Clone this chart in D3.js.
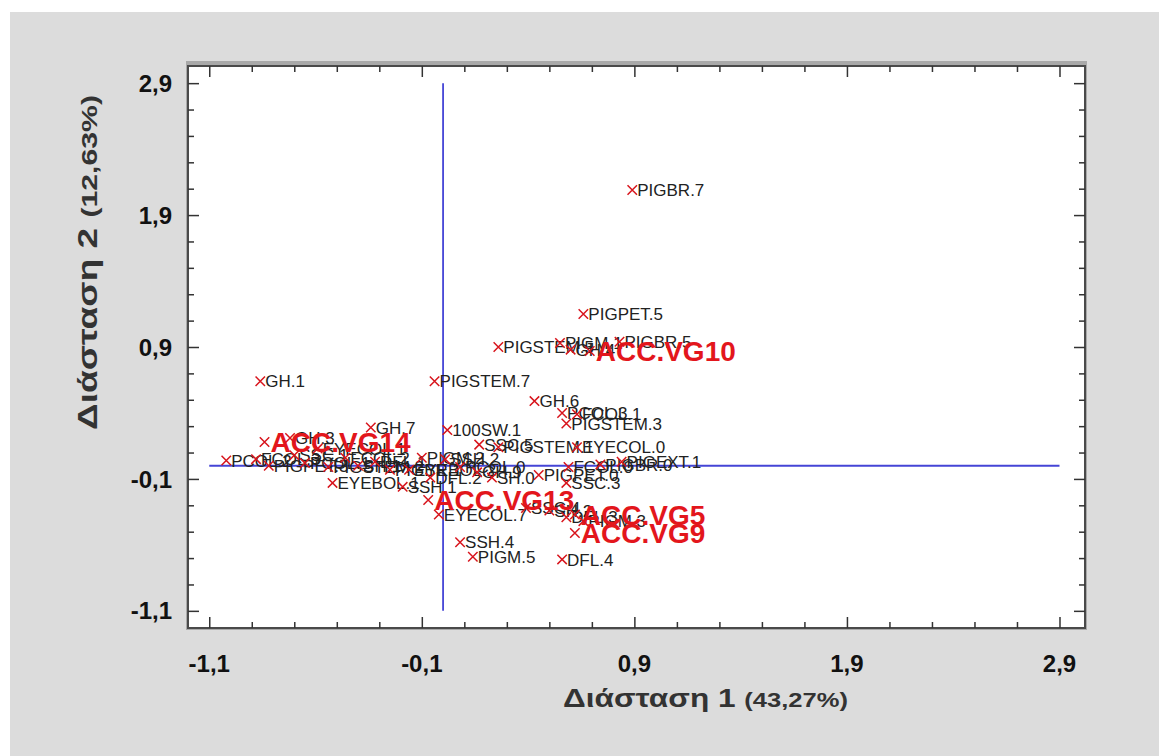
<!DOCTYPE html>
<html>
<head>
<meta charset="utf-8">
<script src="https://cdn.jsdelivr.net/npm/d3@7"></script>
<style>
  html, body { margin: 0; padding: 0; background: #fff; }
  svg { display: block; font-family: Arial, "Liberation Sans", sans-serif; }
</style>
</head>
<body>
<svg id="chart" width="1159" height="756"></svg>
<script>
// tick values (labels use comma decimals)
const xTicks = [-1.1, -0.1, 0.9, 1.9, 2.9];
const yTicks = [-1.1, -0.1, 0.9, 1.9, 2.9];

// trait categories (black labels)
const traitLabels = [
  "PIGBR.7", "PIGPET.5", "PIGSTEM.5", "PIGM.1", "PIGBR.5", "GH.4", "GH.1", "PIGSTEM.7",
  "GH.6", "PCOL.3", "FCOL.1", "PIGSTEM.3", "GH.7", "100SW.1", "SSC.5", "PIGSTEM.1",
  "EYECOL.0", "PIGEXT.1", "FCOL.0", "PIGBR.0", "PIGPET.0", "SSC.3", "EYEBOL.1", "EYECOL.7",
  "SSH.4", "PIGM.5", "DFL.4", "SSC.4", "SH.2", "DFL.3", "PIGM.3",
  "PCOL.2", "FCOL.3", "PIGPET.3", "GH.3", "SSC.1", "PCOL.1", "EYECOL.1", "PIGSTEM.2",
  "FCOL.2", "SH.1", "DFL.1", "PIGBR.1", "SSH.1", "EYEBOL.2", "PIGM.2", "DFL.2",
  "SSH.2", "PCOL.0", "GH.9", "SH.0"
];
const traitX = [
  0.89, 0.66, 0.26, 0.55, 0.83, 0.60, -0.86, -0.04,
  0.43, 0.56, 0.63, 0.58, -0.34, 0.02, 0.17, 0.26,
  0.63, 0.84, 0.59, 0.74, 0.45, 0.58, -0.52, -0.02,
  0.08, 0.14, 0.56, 0.39, 0.50, 0.58, 0.66,
  -1.02, -0.88, -0.82, -0.72, -0.70, -0.65, -0.59, -0.54,
  -0.46, -0.40, -0.32, -0.25, -0.19, -0.16, -0.10, -0.06,
  0.01, 0.08, 0.16, 0.23
];
const traitY = [
  2.09, 1.15, 0.90, 0.93, 0.94, 0.88, 0.64, 0.64,
  0.49, 0.40, 0.39, 0.32, 0.29, 0.27, 0.16, 0.14,
  0.14, 0.03, -0.01, 0.01, -0.07, -0.13, -0.13, -0.37,
  -0.58, -0.69, -0.71, -0.32, -0.34, -0.39, -0.42,
  0.04, 0.05, 0.00, 0.21, 0.08, 0.02, 0.13, -0.01,
  0.06, 0.00, 0.03, -0.03, -0.16, -0.03, 0.06, -0.09,
  0.05, -0.01, -0.05, -0.09
];

// accessions (large red labels)
const accLabels = ["ACC.VG10", "ACC.VG14", "ACC.VG13", "ACC.VG5", "ACC.VG9"];
const accX = [0.69, -0.84, -0.07, 0.62, 0.62];
const accY = [0.87, 0.18, -0.26, -0.37, -0.51];

const svg = d3.select("#chart");
const plot = { left: 188, right: 1085, top: 66, bottom: 628 };

const locale = d3.formatLocale({ decimal: ",", thousands: ".", grouping: [3], currency: ["", ""], minus: "-" });
const fmt = locale.format(".1f");

const x = d3.scaleLinear().domain([-1.2, 3.02]).range([plot.left, plot.right]);
const y = d3.scaleLinear().domain([-1.23, 3.03]).range([plot.bottom, plot.top]);

// grey panel
svg.append("rect")
  .attr("x", 10).attr("y", 12).attr("width", 1149).attr("height", 744)
  .attr("fill", "#dcdcdc");

// frame shadow + plot area
svg.append("rect")
  .attr("x", plot.left - 2).attr("y", plot.top - 5)
  .attr("width", plot.right - plot.left + 4).attr("height", plot.bottom - plot.top + 7)
  .attr("fill", "#a9a9a9");
svg.append("rect")
  .attr("x", plot.left).attr("y", plot.top)
  .attr("width", plot.right - plot.left).attr("height", plot.bottom - plot.top)
  .attr("fill", "#fff").attr("stroke", "#4a4a4a").attr("stroke-width", 2);

const minorX = d3.range(-1.1, 3.0, 0.2).filter(v => !xTicks.some(t => Math.abs(t - v) < 1e-6));
const minorY = d3.range(-1.1, 3.0, 0.2).filter(v => !yTicks.some(t => Math.abs(t - v) < 1e-6));

function ticks(axisFn, scale, vals, size, translate) {
  const g = svg.append("g")
    .attr("transform", translate)
    .call(axisFn(scale).tickValues(vals).tickSize(-size).tickFormat(""));
  g.select(".domain").remove();
  g.selectAll(".tick line").attr("stroke", "#333").attr("stroke-width", 1.5);
  return g;
}

// inward ticks on all four sides
ticks(d3.axisBottom, x, xTicks, 11, `translate(0,${plot.bottom})`);
ticks(d3.axisBottom, x, minorX, 6, `translate(0,${plot.bottom})`);
ticks(d3.axisTop, x, xTicks, 11, `translate(0,${plot.top})`);
ticks(d3.axisTop, x, minorX, 6, `translate(0,${plot.top})`);
ticks(d3.axisLeft, y, yTicks, 11, `translate(${plot.left},0)`);
ticks(d3.axisLeft, y, minorY, 6, `translate(${plot.left},0)`);
ticks(d3.axisRight, y, yTicks, 11, `translate(${plot.right},0)`);
ticks(d3.axisRight, y, minorY, 6, `translate(${plot.right},0)`);

// tick labels
svg.append("g").selectAll("text")
  .data(xTicks)
  .join("text")
  .attr("x", d => x(d))
  .attr("y", plot.bottom + 44)
  .attr("text-anchor", "middle")
  .attr("font-size", 24).attr("font-weight", "bold").attr("fill", "#111")
  .text(d => fmt(d));

svg.append("g").selectAll("text")
  .data(yTicks)
  .join("text")
  .attr("x", plot.left - 16)
  .attr("y", d => y(d))
  .attr("dy", "0.36em")
  .attr("text-anchor", "end")
  .attr("font-size", 24).attr("font-weight", "bold").attr("fill", "#111")
  .text(d => fmt(d));

// axis titles (stretched to the reference width)
const xt = svg.append("text")
  .attr("x", 563).attr("y", 707)
  .attr("textLength", 285).attr("lengthAdjust", "spacingAndGlyphs")
  .attr("font-weight", "bold").attr("fill", "#333");
xt.append("tspan").attr("font-size", 26).text("Διάσταση 1 ");
xt.append("tspan").attr("font-size", 21).text("(43,27%)");

const yt = svg.append("text")
  .attr("transform", "translate(97,430) rotate(-90)")
  .attr("textLength", 335).attr("lengthAdjust", "spacingAndGlyphs")
  .attr("font-weight", "bold").attr("fill", "#333");
yt.append("tspan").attr("font-size", 27).text("Διάσταση  2 ");
yt.append("tspan").attr("font-size", 22).text("(12,63%)");

// reference axes through the origin
svg.append("line")
  .attr("x1", x(0)).attr("x2", x(0))
  .attr("y1", y(d3.max(yTicks))).attr("y2", y(d3.min(yTicks)))
  .attr("stroke", "#4545d6").attr("stroke-width", 1.8);
svg.append("line")
  .attr("x1", x(d3.min(xTicks))).attr("x2", x(d3.max(xTicks)))
  .attr("y1", y(0)).attr("y2", y(0))
  .attr("stroke", "#4545d6").attr("stroke-width", 1.8);

const traits = traitLabels.map((label, i) => ({ label, x: traitX[i], y: traitY[i] }));
const accs = accLabels.map((label, i) => ({ label, x: accX[i], y: accY[i] }));

// trait labels
svg.append("g").selectAll("text")
  .data(traits)
  .join("text")
  .attr("x", d => x(d.x) + 5)
  .attr("y", d => y(d.y))
  .attr("dy", "0.36em")
  .attr("font-size", 17).attr("fill", "#222")
  .text(d => d.label);

// accession labels
svg.append("g").selectAll("text")
  .data(accs)
  .join("text")
  .attr("x", d => x(d.x) + 6)
  .attr("y", d => y(d.y))
  .attr("dy", "0.36em")
  .attr("font-size", 28).attr("font-weight", "bold").attr("fill", "#e3161c")
  .text(d => d.label);

// x markers
const cross = d3.symbol().type(d3.symbolX).size(60);
svg.append("g").selectAll("path")
  .data(traits.concat(accs))
  .join("path")
  .attr("transform", d => `translate(${x(d.x)},${y(d.y)})`)
  .attr("d", cross)
  .attr("fill", "none")
  .attr("stroke", "#d8141c")
  .attr("stroke-width", 1.5);
</script>
</body>
</html>
